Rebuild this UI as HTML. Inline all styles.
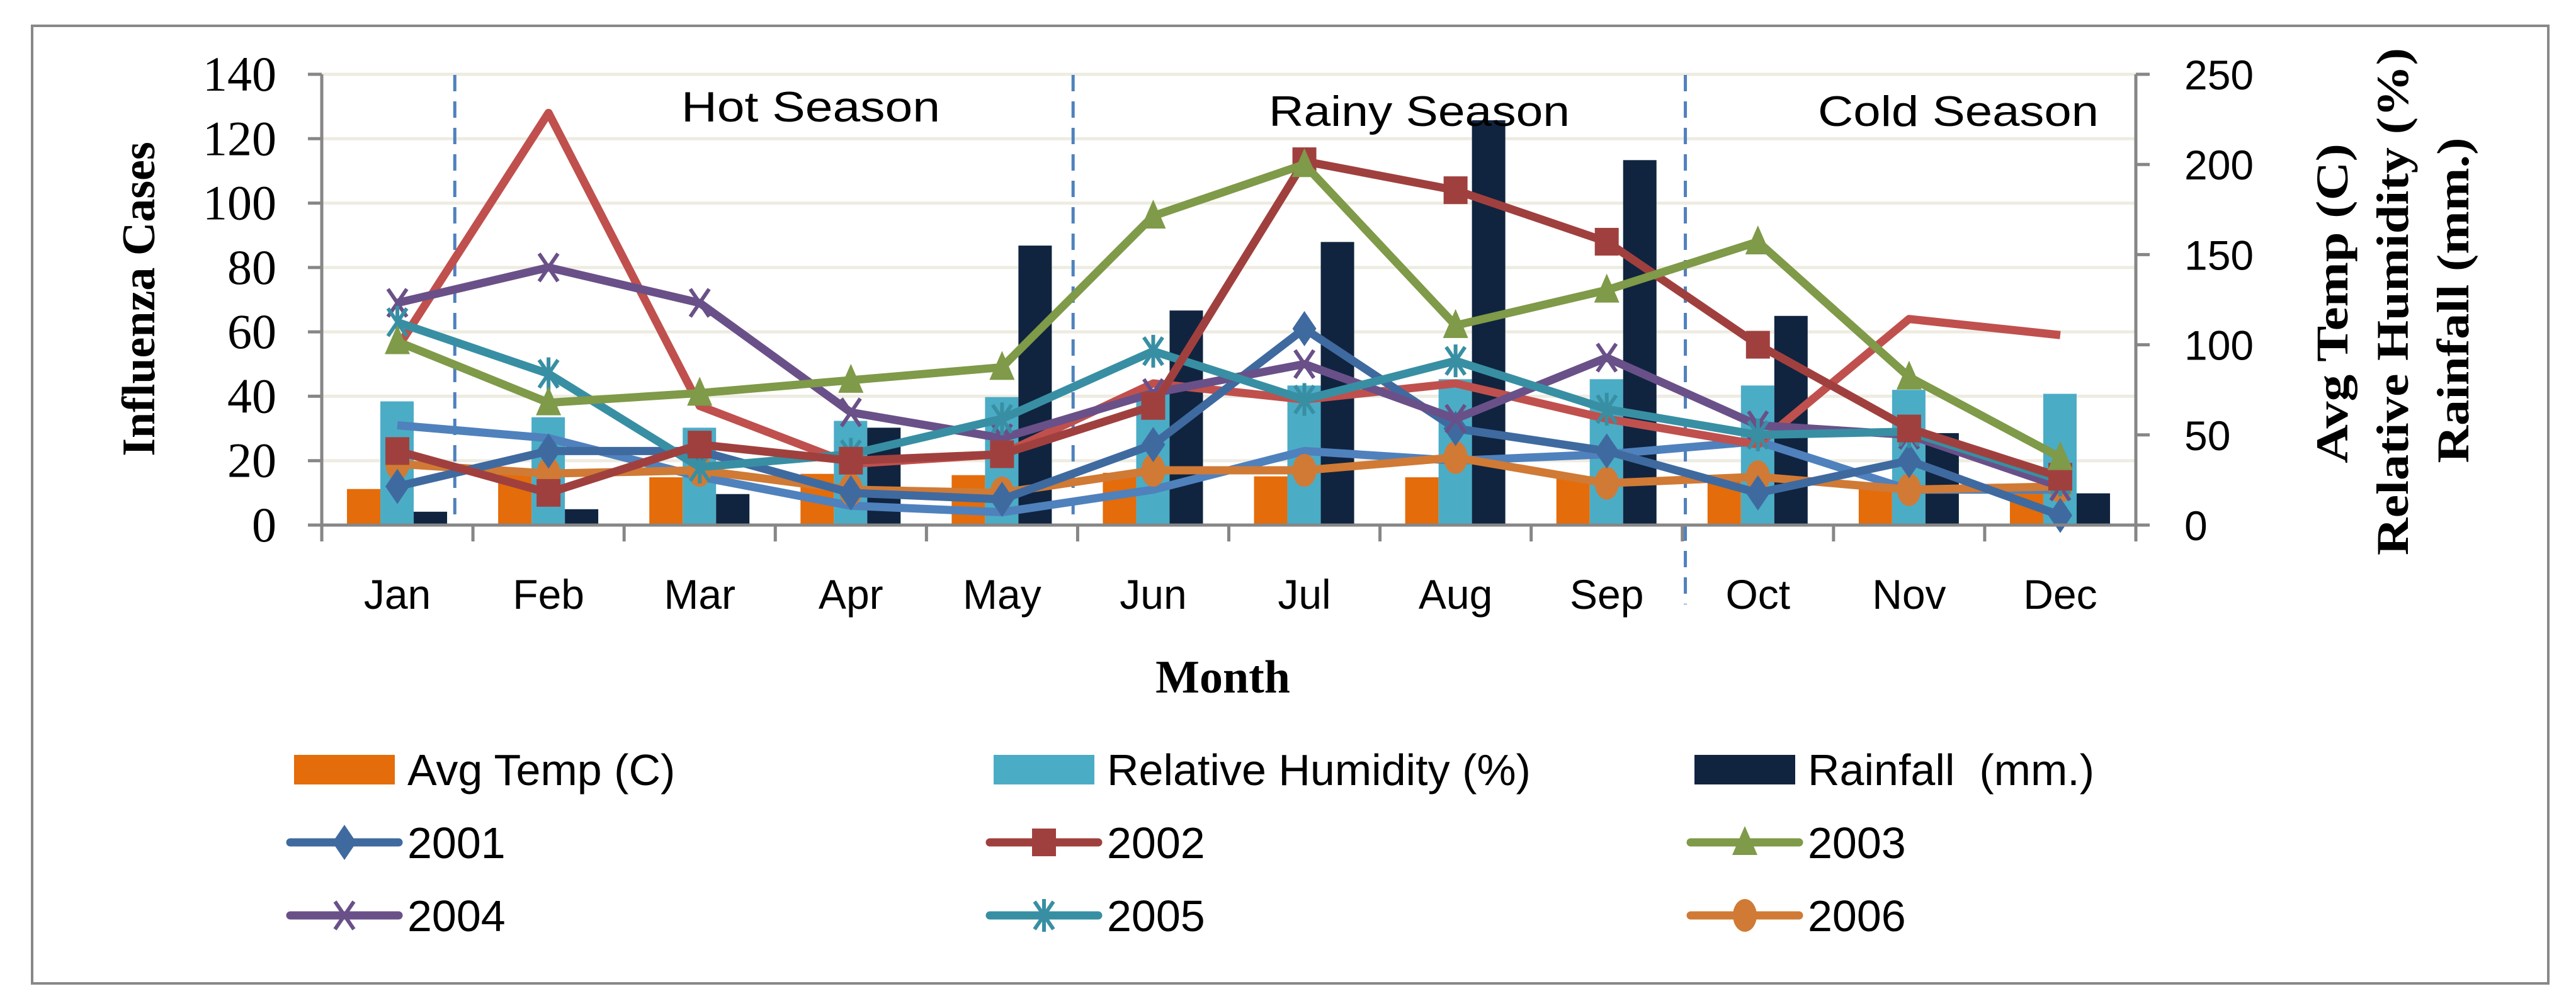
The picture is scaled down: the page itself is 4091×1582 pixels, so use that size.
<!DOCTYPE html>
<html><head><meta charset="utf-8"><style>
html,body{margin:0;padding:0;background:#fff;}
svg{display:block;}
</style></head><body>
<svg id="chart" width="4091" height="1582" viewBox="0 0 4091 1582" xmlns="http://www.w3.org/2000/svg">
<rect x="51" y="41" width="3996" height="1521" fill="#fff" stroke="#888" stroke-width="4"/>
<g id="grid"></g><g id="bars"></g><g id="seasons"></g><g id="lines"></g><g id="axes"></g><g id="legend"></g>
<text transform="translate(245,475) rotate(-90)" text-anchor="middle" font-family="Liberation Serif, serif" font-weight="bold" font-size="74">Influenza Cases</text>
<text x="1942" y="1100" text-anchor="middle" font-family="Liberation Serif, serif" font-weight="bold" font-size="74">Month</text>
<g font-family="Liberation Serif, serif" font-weight="bold" font-size="72" text-anchor="middle">
<text transform="translate(3728,482) rotate(-90)" textLength="508" lengthAdjust="spacingAndGlyphs">Avg Temp (C)</text>
<text transform="translate(3824,479) rotate(-90)" textLength="806" lengthAdjust="spacingAndGlyphs">Relative Humidity (%)</text>
<text transform="translate(3920,477) rotate(-90)" textLength="517" lengthAdjust="spacingAndGlyphs">Rainfall (mm.)</text>
</g>
<g font-family="Liberation Sans, sans-serif" font-size="68">
<text x="1082" y="193" textLength="411" lengthAdjust="spacingAndGlyphs">Hot Season</text>
<text x="2015" y="200" textLength="478" lengthAdjust="spacingAndGlyphs">Rainy Season</text>
<text x="2887" y="200" textLength="446" lengthAdjust="spacingAndGlyphs">Cold Season</text>
</g>
</svg>
<script>
const months=["Jan","Feb","Mar","Apr","May","Jun","Jul","Aug","Sep","Oct","Nov","Dec"];
const leftTicks=[0,20,40,60,80,100,120,140];
const rightTicks=[0,50,100,150,200,250];
const avgTemp=[20,29,26.5,28.4,27.7,29,27,26.5,27,25,21.6,19];
const humidity=[68.6,59.8,54,57.8,71,75,77.4,80.9,80.9,77.4,75,72.8];
const rainfall=[7.4,8.8,17.2,54,155,119,157,224.5,202.4,116,51,17.6];
const y2001=[12,23,23,10,8,25,61,30,23,10,20,3];
const y2002=[23,10,25,20,22,37,113,104,88,56,30,15];
const y2003=[57,38,41,45,49,96,112,62,73,88,46,21];
const y2004=[69,80,69,35,27,41,50,33,52,31,28,12];
const y2005=[63,47,18,22,33,54,39,51,36,28,29,14];
const y2006=[19,16,17,11,10,17,17,21,13,15,11,12];
const extraRed=[55,128,37,19,22,44,39,44,33,25,64,59];
const extraBlue=[31,27,15,6,4,11,23,20,22,26,11,11];
const seasonBounds=[0.88,4.97,9.02];

const NS="http://www.w3.org/2000/svg";
const X0=511,X1=3392,Y0=834,Y1=118,MW=(X1-X0)/12;
const yL=v=>Y0-(v/140)*(Y0-Y1);
const yR=v=>Y0-(v/250)*(Y0-Y1);
const xC=i=>X0+MW*(i+0.5);
function mk(tag,attrs,parent){const e=document.createElementNS(NS,tag);for(const k in attrs)e.setAttribute(k,attrs[k]);parent.appendChild(e);return e;}
const G=id=>document.getElementById(id);

leftTicks.forEach(t=>{
  if(t>0){const l=mk('line',{x1:X0,x2:X1,y1:yL(t),y2:yL(t),stroke:'#EEECE1','stroke-width':5},G('grid'));
  
  }
  const tk=mk('line',{x1:X0-22,x2:X0,y1:yL(t),y2:yL(t),stroke:'#868686','stroke-width':5},G('axes'));
  
  
  const tx=mk('text',{x:439,y:yL(t)+26,'text-anchor':'end','font-family':'Liberation Serif, serif','font-size':78},G('axes'));
  tx.textContent=t;
  
  
});
rightTicks.forEach(t=>{
  const tk=mk('line',{x1:X1,x2:X1+22,y1:yR(t),y2:yR(t),stroke:'#868686','stroke-width':5},G('axes'));
  
  
  const tx=mk('text',{x:3469,y:yR(t)+24,'font-family':'Liberation Sans, sans-serif','font-size':66},G('axes'));
  tx.textContent=t;
  
  
});
let a=mk('line',{x1:X0,x2:X0,y1:Y1,y2:Y0,stroke:'#868686','stroke-width':5},G('axes'));


a=mk('line',{x1:X1,x2:X1,y1:Y1,y2:Y0+26,stroke:'#868686','stroke-width':5},G('axes'));


a=mk('line',{x1:X0-22,x2:X1,y1:Y0,y2:Y0,stroke:'#868686','stroke-width':5},G('axes'));


for(let i=0;i<=12;i++){
  const tk=mk('line',{x1:X0+MW*i,x2:X0+MW*i,y1:Y0,y2:Y0+26,stroke:'#868686','stroke-width':5},G('axes'));
  
  
}
months.forEach((m,i)=>{
  const tx=mk('text',{x:xC(i),y:967,'text-anchor':'middle','font-family':'Liberation Sans, sans-serif','font-size':66},G('axes'));
  tx.textContent=m;
  
  
});

const BW=53;
[[avgTemp,'#E46C0A','avg-temp-bar'],[humidity,'#4BACC6','humidity-bar'],[rainfall,'#10243F','rainfall-bar']].forEach((s,k)=>{
  s[0].forEach((v,i)=>{
    const x=xC(i)-80+k*BW;
    const r=mk('rect',{x:x,y:yR(v),width:BW,height:Y0-yR(v),fill:s[1]},G('bars'));
    
    
  });
});

seasonBounds.forEach((b,i)=>{
  const x=X0+MW*b;
  const l=mk('line',{x1:x,x2:x,y1:119,y2:i==2?960:834,stroke:'#4F81BD','stroke-width':5,'stroke-dasharray':'26 16'},G('seasons'));
  
  
});

function marker(type,x,y,col,parent){
  let e;
  if(type==='diamond') e=mk('path',{d:`M${x} ${y-28}L${x+19} ${y}L${x} ${y+28}L${x-19} ${y}Z`,fill:col},parent);
  else if(type==='square') e=mk('rect',{x:x-19,y:y-22,width:38,height:44,fill:col},parent);
  else if(type==='triangle') e=mk('path',{d:`M${x} ${y-26}L${x+20} ${y+20}L${x-20} ${y+20}Z`,fill:col},parent);
  else if(type==='x') e=mk('path',{d:`M${x-15} ${y-22}L${x+15} ${y+22}M${x+15} ${y-22}L${x-15} ${y+22}`,stroke:col,'stroke-width':6},parent);
  else if(type==='star') e=mk('path',{d:`M${x-15} ${y-22}L${x+15} ${y+22}M${x+15} ${y-22}L${x-15} ${y+22}M${x} ${y-26}L${x} ${y+26}`,stroke:col,'stroke-width':6},parent);
  else if(type==='circle') e=mk('ellipse',{cx:x,cy:y,rx:19,ry:26,fill:col},parent);
  return e;
}
const series=[
 [extraBlue,'#4F81BD',null,'line-unlabeled-blue'],
 [extraRed,'#C0504D',null,'line-unlabeled-red'],
 [y2006,'#D07A35','circle','line-2006'],
 [y2001,'#3F6AA0','diamond','line-2001'],
 [y2004,'#6A5088','x','line-2004'],
 [y2005,'#388FA3','star','line-2005'],
 [y2002,'#A0403E','square','line-2002'],
 [y2003,'#7F9A48','triangle','line-2003'],
];
series.forEach(s=>{
  const g=mk('g',{},G('lines'));
  
  
  const pts=s[0].map((v,i)=>xC(i)+','+yL(v)).join(' ');
  mk('polyline',{points:pts,fill:'none',stroke:s[1],'stroke-width':13,'stroke-linejoin':'round'},g);
  if(s[2]) s[0].forEach((v,i)=>marker(s[2],xC(i),yL(v),s[1],g));
});

const lg=G('legend');
const cols=[467,1578,2691], rows=[1222,1338,1454];
const legendItems=[
 ['bar','#E46C0A','Avg Temp (C)',null],['bar','#4BACC6','Relative Humidity (%)',null],['bar','#10243F','Rainfall\u00a0 (mm.)',null],
 ['line','#3F6AA0','2001','diamond'],['line','#A0403E','2002','square'],['line','#7F9A48','2003','triangle'],
 ['line','#6A5088','2004','x'],['line','#388FA3','2005','star'],['line','#D07A35','2006','circle']];
legendItems.forEach((it,k)=>{
  const x=cols[k%3], y=rows[Math.floor(k/3)];
  const g=mk('g',{},lg);
  
  
  if(it[0]==='bar') mk('rect',{x:x,y:y-23,width:160,height:47,fill:it[1]},g);
  else { mk('line',{x1:x-6,x2:x+166,y1:y,y2:y,stroke:it[1],'stroke-width':13,'stroke-linecap':'round'},g); marker(it[3],x+80,y,it[1],g); }
  const t=mk('text',{x:x+180,y:y+25,'font-family':'Liberation Sans, sans-serif','font-size':70},g);
  t.textContent=it[2];
});
</script>
</body></html>
